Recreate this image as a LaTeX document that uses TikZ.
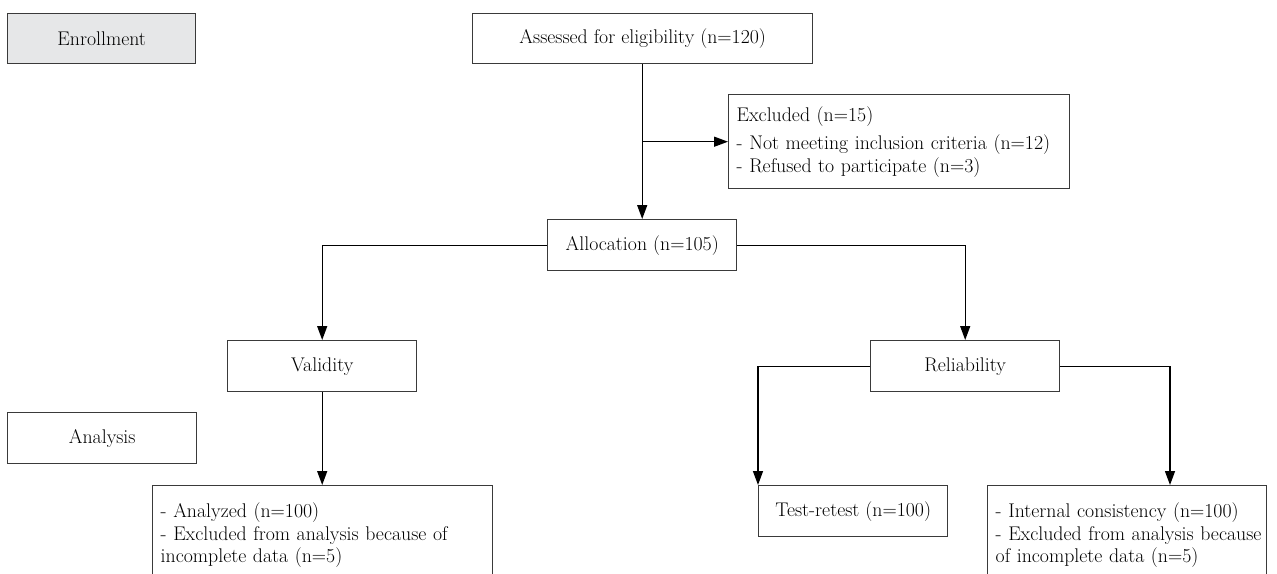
\documentclass[tikz,border=0pt]{standalone}
\usepackage{fontspec}
\usetikzlibrary{arrows.meta}
\newcommand{\fsz}{\fontsize{19.8}{22.5}\selectfont}
\definecolor{boxgray}{HTML}{E6E7E8}
\definecolor{edge}{HTML}{3A3A3A}
\tikzset{
  box/.style={draw=edge, line width=1.4pt, inner sep=0pt, anchor=north west, font=\fsz, align=center},
  listbox/.style={box, align=left, inner xsep=8pt},
  arr/.style={-{Triangle[length=14pt,width=10pt]}, line width=1.4pt, draw=black},
  ln/.style={line width=1.4pt, draw=black}
}
\begin{document}
\begin{tikzpicture}[x=1pt,y=-1pt]
\useasboundingbox (0,0) rectangle (1277,573);
\clip (0,0) rectangle (1277,573);
% stage labels
\node[box, fill=boxgray, minimum width=188pt, minimum height=50pt] (enroll) at (7,13) {Enrollment};
\node[box, minimum width=189pt, minimum height=51pt] (analysis) at (7,412) {Analysis};
% flow boxes
\node[box, minimum width=340pt, minimum height=50pt] (assess) at (472,13) {Assessed for eligibility (n=120)};
\node[listbox, text width=325pt, minimum height=94pt] (excl) at (728,94)
  {Excluded (n=15)\\[6pt]\mbox{- Not meeting inclusion criteria (n=12)}\\\mbox{- Refused to participate (n=3)}};
\node[box, minimum width=189pt, minimum height=51pt] (alloc) at (547,219) {Allocation (n=105)};
\node[box, minimum width=189pt, minimum height=51pt] (valid) at (227,340) {Validity};
\node[box, minimum width=189pt, minimum height=51pt] (reliab) at (870,340) {Reliability};
\node[listbox, text width=324pt, inner ysep=17pt] (analyzed) at (152,485)
  {\mbox{- Analyzed (n=100)}\\\mbox{- Excluded from analysis because of}\\\mbox{incomplete data (n=5)}};
\node[box, minimum width=189pt, minimum height=51pt] (test) at (758,485) {Test-retest (n=100)};
\node[listbox, text width=263pt, inner ysep=17pt] (internal) at (987,485)
  {\mbox{- Internal consistency (n=100)}\\\mbox{- Excluded from analysis because}\\\mbox{of incomplete data (n=5)}};
% connectors
\coordinate (top) at (alloc.north |- assess.south);
\coordinate (br) at (alloc.north |- excl.west);
\draw[ln] (top) -- (br);
\draw[arr] (br) -- (alloc.north);
\draw[arr] (br) -- (excl.west);
\draw[arr] (alloc.west) -| (valid.north);
\draw[arr] (alloc.east) -| (reliab.north);
\draw[arr] (valid.south) -- (valid.south |- analyzed.north);
\coordinate (tl) at (test.north west);
\draw[arr] (reliab.west) -| (tl);
\coordinate (ic) at ([xshift=183pt]internal.north west);
\draw[arr] (reliab.east) -| (ic);
\end{tikzpicture}
\end{document}
